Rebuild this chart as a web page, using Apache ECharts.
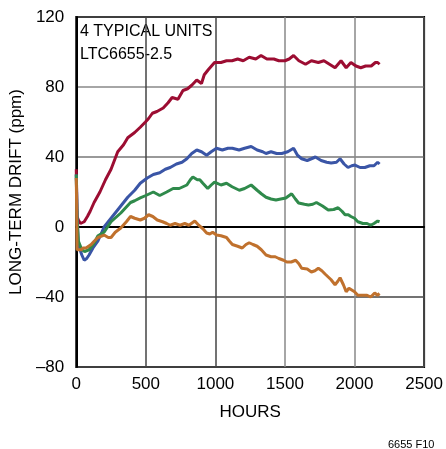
<!DOCTYPE html>
<html><head><meta charset="utf-8">
<script src="https://cdn.jsdelivr.net/npm/echarts@6/dist/echarts.min.js"></script>
<style>html,body{margin:0;padding:0;background:#fff}#c{width:446px;height:449px}</style>
</head><body><div id="c"></div>
<script>
const xTicks = [0, 500, 1000, 1500, 2000, 2500];
const yTicks = [-80, -40, 0, 40, 80, 120];

const redHours = [0,3,6,15,30,57,80,100,128,170,210,250,298,340,370,420,460,497,520,547,580,625,660,689,731,767,800,830,866,900,920,950,994,1040,1080,1120,1160,1200,1243,1290,1328,1370,1420,1456,1500,1530,1562,1600,1648,1690,1740,1780,1820,1860,1903,1940,1974,2010,2045,2080,2120,2150,2166,2180];
const redPpm = [33,20,6,4,2,3,6,9,14,20,27,33,43,47,51,54,57,60,62,65,66,68,71,74,73,78,79,81,84,82,87,90,94,94,95,95,96,95,97,96,98,96,96,95,95,96,98,95,93,95,94,95,93,91,95,91,94,92,91,92,92,94,94,93];

const blueHours = [0,5,15,40,57,75,92,120,156,200,250,320,370,420,460,510,554,600,640,675,720,760,795,830,866,900,937,970,1008,1050,1090,1122,1170,1210,1257,1300,1340,1364,1400,1440,1477,1520,1562,1590,1620,1660,1690,1719,1760,1800,1832,1870,1896,1925,1953,1980,2003,2040,2074,2110,2140,2166,2180];
const bluePpm = [30,10,-10,-16,-19,-18,-16,-12,-8,0,5,12,17,21,25,28,30,31,33,34,36,37,39,42,44,43,41,43,45,44,45,45,44,45,46,44,43,42,43,42,42,43,45,41,39,38,39,40,38,37,36.6,37,39,36,34,35,35.4,34,34,35,35,37,36];

const greenHours = [0,5,15,40,60,92,130,156,200,250,320,390,420,460,500,554,600,650,696,740,795,820,838,870,888,910,945,970,994,1040,1080,1120,1172,1210,1257,1300,1330,1364,1400,1435,1470,1506,1548,1575,1598,1640,1669,1700,1726,1770,1811,1850,1882,1910,1932,1955,1974,2000,2024,2060,2090,2116,2140,2166,2180];
const greenPpm = [30,5,-8,-13,-14,-13,-9,-5,-3,3,8,14,15,16.6,18,20,18,20,22,22,24,27,28.6,27,27,25,22,24,25.7,24,25,23,21,22,24,21,19,17,16,15.4,16,16.6,19,16,13.7,13,12.6,13,14,12,9.7,10,11,9,7,7,6,5,3,2,2,1,2,3.4,3];

const orangeHours = [0,3,6,20,35,50,70,107,130,156,200,230,250,280,320,360,390,420,460,490,520,550,582,620,650,675,710,746,780,810,852,880,910,937,960,980,1008,1040,1080,1100,1122,1160,1193,1220,1243,1270,1300,1330,1364,1400,1430,1456,1490,1513,1545,1577,1600,1620,1660,1690,1715,1740,1765,1790,1830,1860,1880,1896,1920,1940,1960,1974,2000,2024,2060,2090,2116,2130,2145,2165,2180];
const orangePpm = [28,10,-13,-13,-13,-12,-12,-10,-8,-6,-4.6,-6,-6,-3,-0.6,3,6,5,4,5,7,6,4,3,2,1,2,1,2,1,3.4,1,-1,-3.4,-4,-3,-4.6,-5,-6,-8,-10,-11,-12,-10,-9,-10,-11,-13,-16,-17,-17,-18,-19,-20,-20,-19,-21,-23.6,-24,-25.7,-25,-23.6,-25,-27,-30,-33,-31,-29,-33,-37,-35,-34,-37,-39,-39,-39,-40,-39,-37.7,-39,-38];

const zip = (h, v) => h.map((x, i) => [x, v[i]]);
const FONT = "'Liberation Sans Narrow', 'Liberation Sans', Arial, sans-serif";
const minus = v => v < 0 ? '\u2013' + Math.abs(v) : String(v);

const chart = echarts.init(document.getElementById('c'), null, {renderer: 'canvas'});
const mk = (name, h, v, color) => ({
  name, type: 'line', data: zip(h, v), showSymbol: false, smooth: false,
  lineStyle: {color, width: 3}, itemStyle: {color}, z: 3
});
chart.setOption({
  animation: false,
  grid: {left: 75, top: 17, right: 19, bottom: 82, show: true, borderColor: '#000', borderWidth: 2},
  xAxis: {
    type: 'value', min: 0, max: 2500, interval: 500,
    name: 'HOURS', nameLocation: 'middle', nameGap: 37,
    nameTextStyle: {fontFamily: FONT, fontSize: 17, color: '#000'},
    axisLine: {show: true, lineStyle: {color: '#000', width: 2}},
    axisTick: {show: false},
    axisLabel: {fontFamily: FONT, fontSize: 17, color: '#000', margin: 9, formatter: v => String(v)},
    splitLine: {show: true, lineStyle: {color: ['#555','#444','#444','#888','#888','#555'], width: 1.5}}
  },
  yAxis: {
    type: 'value', min: -80, max: 120, interval: 40,
    name: 'LONG-TERM DRIFT (ppm)', nameLocation: 'middle', nameGap: 50, nameRotate: 90,
    nameTextStyle: {fontFamily: FONT, fontSize: 17, color: '#000'},
    axisLine: {show: true, lineStyle: {color: '#000', width: 2}},
    axisTick: {show: false},
    axisLabel: {fontFamily: FONT, fontSize: 17, color: '#000', margin: 12, formatter: minus},
    splitLine: {show: true, lineStyle: {color: ['#555','#444','#333','#777','#888','#555'], width: 1.5}}
  },
  series: [
    mk('red', redHours, redPpm, '#9c0d32'),
    mk('blue', blueHours, bluePpm, '#3a55a6'),
    mk('green', greenHours, greenPpm, '#2f8a4b'),
    mk('orange', orangeHours, orangePpm, '#c0712d')
  ],
  graphic: [
    {type: 'text', left: 80, top: 24, style: {text: '4 TYPICAL UNITS', fontFamily: FONT, fontSize: 16, fill: '#000'}},
    {type: 'text', left: 80, top: 47, style: {text: 'LTC6655-2.5', fontFamily: FONT, fontSize: 16, fill: '#000'}},
    {type: 'text', left: 388, top: 439, style: {text: '6655 F10', fontFamily: FONT, fontSize: 11, fill: '#000'}}
  ]
});
</script></body></html>
